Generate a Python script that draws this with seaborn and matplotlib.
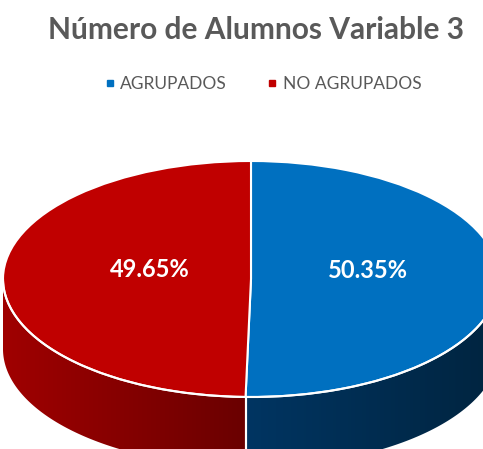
import numpy as np
import matplotlib.pyplot as plt
import seaborn as sns
from matplotlib.transforms import Affine2D
from matplotlib.patches import Polygon
from matplotlib.lines import Line2D

sns.set_theme(style="white")
plt.rcParams['font.family'] = ['Lato', 'DejaVu Sans']

# Datos
categorias = ['AGRUPADOS', 'NO AGRUPADOS']
porcentajes = [50.35, 49.65]
colores_sup = ['#0070C0', '#C00000']
colores_lado = [('#003562', '#00243F'), ('#A00000', '#6A0000')]
titulo = 'Número de Alumnos Variable 3'

W, H = 483, 449
fig = plt.figure(figsize=(W / 100, H / 100), dpi=100)
ax = fig.add_axes([0, 0, 1, 1])
ax.set_xlim(0, W)
ax.set_ylim(0, H)
ax.axis('off')

# geometria del pastel (pixeles)
cx, cy = 251, H - 279
a, b = 248, 118
prof = 70

elipse = Affine2D().scale(a, b).translate(cx, cy) + ax.transData

wedges, textos, autotextos = ax.pie(
    porcentajes, colors=colores_sup, startangle=90, counterclock=False,
    autopct='%.2f%%', pctdistance=0.44,
    wedgeprops=dict(edgecolor='white', linewidth=1.5),
    textprops=dict(color='white', fontsize=17, fontweight='bold'))
ax.set_aspect('auto')
ax.set_xlim(0, W)
ax.set_ylim(0, H)

for w in wedges:
    w.set_transform(elipse)
    w.set_zorder(3)
for t in autotextos:
    t.set_transform(Affine2D().scale(a, b).translate(cx + 8, cy + 9) + ax.transData)
    t.set_zorder(5)

# lados (parte frontal visible: angulos 180..360)
def rango_visible(t1, t2):
    segs = []
    for k in (-360, 0, 360):
        lo = max(t1, 180 + k)
        hi = min(t2, 360 + k)
        if hi > lo:
            segs.append((lo, hi))
    return segs

for w, (c1, c2) in zip(wedges, colores_lado):
    for lo, hi in rango_visible(w.theta1, w.theta2):
        th = np.radians(np.linspace(lo, hi, 200))
        xs = cx + a * np.cos(th)
        ys = cy + b * np.sin(th)
        pts = np.concatenate([np.column_stack([xs, ys]),
                              np.column_stack([xs[::-1], ys[::-1] - prof])])
        poly = Polygon(pts, closed=True, facecolor='none', edgecolor='none')
        ax.add_patch(poly)
        x0, x1 = xs.min(), xs.max()
        grad = np.linspace(0, 1, 256)[None, :]
        cmap = sns.blend_palette([c1, c2], as_cmap=True)
        im = ax.imshow(grad, cmap=cmap, extent=[x0, x1, ys.min() - prof, ys.max()],
                       aspect='auto', zorder=1)
        im.set_clip_path(poly)
        # borde vertical blanco
        for ang in (lo, hi):
            if abs(np.cos(np.radians(ang))) < 0.999:
                xa = cx + a * np.cos(np.radians(ang))
                ya = cy + b * np.sin(np.radians(ang))
                ax.plot([xa, xa], [ya, ya - prof], color='white', lw=1.5, zorder=2)

# borde frontal blanco
th = np.radians(np.linspace(180, 360, 300))
ax.plot(cx + a * np.cos(th), cy + b * np.sin(th), color='white', lw=1.5, zorder=4)
ax.set_xlim(0, W)
ax.set_ylim(0, H)

fig.text(256 / W, 1 - 30 / H, titulo, ha='center', va='center',
         fontsize=21.5, fontweight='bold', color='#595959')

handles = [Line2D([], [], marker='s', linestyle='', markersize=5,
                  markerfacecolor=c, markeredgecolor=c) for c in colores_sup]
fig.legend(handles, categorias, loc='center', bbox_to_anchor=(262 / W, 1 - 84 / H),
           ncol=2, frameon=False, fontsize=12.5, labelcolor='#595959',
           handletextpad=0.2, columnspacing=2.2, handlelength=0.8)

fig.savefig('out.png', dpi=100)
